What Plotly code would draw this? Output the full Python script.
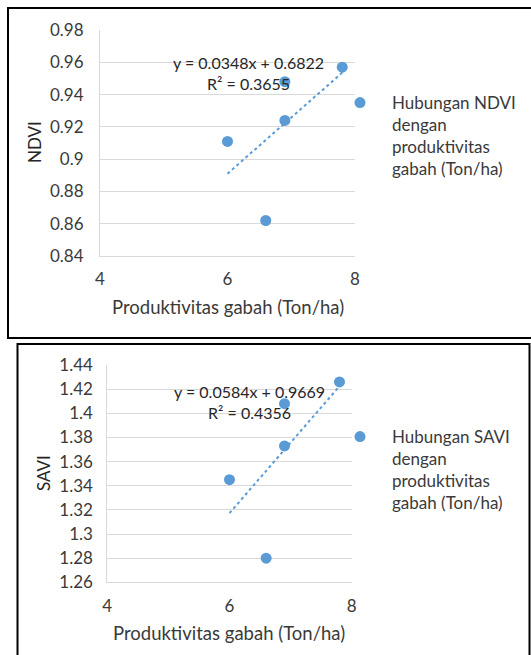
import plotly.graph_objects as go

# ---- data ----
prod = [6.0, 6.6, 6.9, 6.9, 7.8]           # Produktivitas gabah (Ton/ha)
ndvi = [0.911, 0.862, 0.924, 0.948, 0.957]
savi = [1.345, 1.280, 1.373, 1.408, 1.426]

trend_x = [6.0, 7.8]
ndvi_trend = [0.8910, 0.9536]
savi_trend = [1.3173, 1.4224]

ndvi_ticks = [0.84, 0.86, 0.88, 0.90, 0.92, 0.94, 0.96, 0.98]
ndvi_ticktext = ["0.84", "0.86", "0.88", "0.9", "0.92", "0.94", "0.96", "0.98"]
savi_ticks = [1.26, 1.28, 1.30, 1.32, 1.34, 1.36, 1.38, 1.40, 1.42, 1.44]
savi_ticktext = ["1.26", "1.28", "1.3", "1.32", "1.34", "1.36", "1.38", "1.4", "1.42", "1.44"]
x_ticks = [4, 6, 8]

ndvi_eq = "y = 0.0348x + 0.6822<br>R² = 0.3655"
savi_eq = "y = 0.0584x + 0.9669<br>R² = 0.4356"
ndvi_name = "Hubungan NDVI<br>dengan<br>produktivitas<br>gabah (Ton/ha)"
savi_name = "Hubungan SAVI<br>dengan<br>produktivitas<br>gabah (Ton/ha)"
x_title = "Produktivitas gabah (Ton/ha)"

# ---- layout helpers ----
W, H = 531, 655
FONT = "Lato"
TXT = "#3A3A3A"
DARK = "#262626"
BLUE = "#5B9BD5"
GRID = "#D9D9D9"


def px(x):
    return x / W


def py(y):
    return 1 - y / H


fig = go.Figure()

fig.add_trace(go.Scatter(x=prod, y=ndvi, mode="markers", name=ndvi_name,
                         marker=dict(color=BLUE, size=11), xaxis="x", yaxis="y",
                         legend="legend", cliponaxis=False))
fig.add_trace(go.Scatter(x=trend_x, y=ndvi_trend, mode="lines", showlegend=False,
                         line=dict(color=BLUE, width=2, dash="dot"), xaxis="x", yaxis="y"))
fig.add_trace(go.Scatter(x=prod, y=savi, mode="markers", name=savi_name,
                         marker=dict(color=BLUE, size=11), xaxis="x2", yaxis="y2",
                         legend="legend2", cliponaxis=False))
fig.add_trace(go.Scatter(x=trend_x, y=savi_trend, mode="lines", showlegend=False,
                         line=dict(color=BLUE, width=2, dash="dot"), xaxis="x2", yaxis="y2"))

axis_common = dict(showline=True, linecolor=GRID, linewidth=1, zeroline=False,
                   ticks="", tickfont=dict(family=FONT, size=17, color=TXT),
                   automargin=False, fixedrange=True)

legend_common = dict(xanchor="left", yanchor="top", valign="top",
                     font=dict(family=FONT, size=17, color=TXT), bgcolor="rgba(0,0,0,0)",
                     itemwidth=54, tracegroupgap=0)

fig.update_layout(
    width=W, height=H,
    margin=dict(l=0, r=0, t=0, b=0),
    paper_bgcolor="white", plot_bgcolor="white",
    font=dict(family=FONT, size=16, color=TXT),
    xaxis=dict(domain=[px(100), px(355)], range=[4, 8], tickvals=x_ticks,
               showgrid=False, anchor="y", ticklabelstandoff=8, **axis_common),
    yaxis=dict(domain=[py(256), py(30)], range=[0.84, 0.98], tickvals=ndvi_ticks,
               ticktext=ndvi_ticktext, showgrid=True, gridcolor=GRID, anchor="x",
               ticklabelstandoff=12, **axis_common),
    xaxis2=dict(domain=[px(107.3), px(351.7)], range=[4, 8], tickvals=x_ticks,
                showgrid=False, anchor="y2", ticklabelstandoff=8, **axis_common),
    yaxis2=dict(domain=[py(582.3), py(365)], range=[1.26, 1.44], tickvals=savi_ticks,
                ticktext=savi_ticktext, showgrid=True, gridcolor=GRID, anchor="x2",
                ticklabelstandoff=10, **axis_common),
    legend=dict(x=px(328), y=py(85), **legend_common),
    legend2=dict(x=px(328), y=py(419), **legend_common),
    showlegend=True,
)

ann_common = dict(xref="paper", yref="paper", showarrow=False,
                  xanchor="center", yanchor="middle")
annotations = [
    dict(text=ndvi_eq, x=px(248), y=py(73.5), align="center",
         font=dict(family=FONT, size=16, color=DARK), **ann_common),
    dict(text=savi_eq, x=px(250), y=py(401.5), align="center",
         font=dict(family=FONT, size=16, color=DARK), **ann_common),
    dict(text="NDVI", x=px(34), y=py(142), textangle=-90,
         font=dict(family=FONT, size=17, color=DARK), **ann_common),
    dict(text="SAVI", x=px(43), y=py(473), textangle=-90,
         font=dict(family=FONT, size=17, color=DARK), **ann_common),
    dict(text=x_title, x=px(228), y=py(307),
         font=dict(family=FONT, size=18.5, color=TXT), **ann_common),
    dict(text=x_title, x=px(229), y=py(633),
         font=dict(family=FONT, size=18.5, color=TXT), **ann_common),
]
fig.update_layout(annotations=annotations)

# frames around the two charts
border = dict(color="black", width=2)
shapes = [
    dict(type="rect", xref="paper", yref="paper", x0=px(8), x1=px(540), y0=py(338), y1=py(8),
         line=border, fillcolor="rgba(0,0,0,0)", layer="above"),
    dict(type="rect", xref="paper", yref="paper", x0=px(17.5), x1=px(529.5), y0=py(670), y1=py(344),
         line=border, fillcolor="rgba(0,0,0,0)", layer="above"),
]
fig.update_layout(shapes=shapes)

fig.write_html("out.html", config=dict(displayModeBar=False),
               post_script="document.body.style.margin='0';document.body.style.overflow='hidden';")
